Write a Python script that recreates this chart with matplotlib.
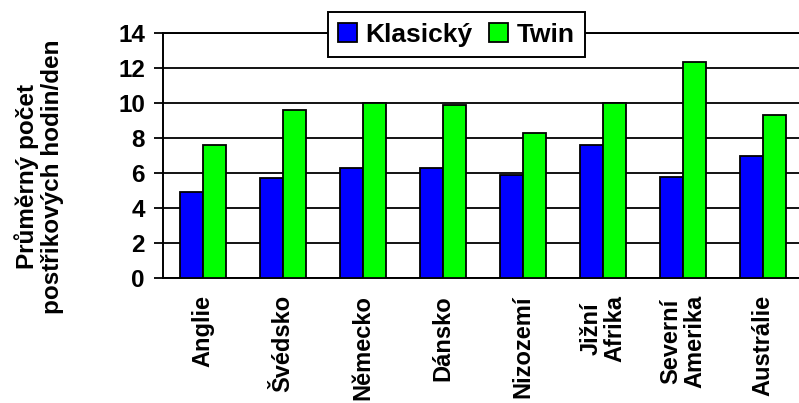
import matplotlib
matplotlib.use("Agg")
import matplotlib.pyplot as plt
import numpy as np

categories = ["Anglie", "Švédsko", "Německo", "Dánsko", "Nizozemí",
              "Jižní\nAfrika", "Severní\nAmerika", "Austrálie"]
klasicky = [4.9, 5.7, 6.3, 6.3, 5.9, 7.6, 5.8, 7.0]
twin = [7.6, 9.6, 10.0, 9.9, 8.3, 10.0, 12.3, 9.3]
series_names = ["Klasický", "Twin"]
yticks = [0, 2, 4, 6, 8, 10, 12, 14]

plt.rcParams['font.family'] = ['Liberation Sans', 'DejaVu Sans']
plt.rcParams['font.weight'] = 'bold'

fig = plt.figure(figsize=(7.99, 4.03), dpi=100)
ax = fig.add_axes([0.204, 0.309, 0.801, 0.610])

x = np.arange(len(categories))
w = 0.2875
ax.bar(x - w / 2, klasicky, w, color="#0000FF", edgecolor="black",
       linewidth=1.3, zorder=3, label=series_names[0])
ax.bar(x + w / 2, twin, w, color="#00FF00", edgecolor="black",
       linewidth=1.3, zorder=3, label=series_names[1])

ax.set_xlim(-0.5, len(categories) - 0.5)
ax.set_ylim(0, 14)
ax.set_yticks(yticks)
ax.set_yticklabels([str(v) for v in yticks], fontsize=17.5, fontweight='bold')
ax.set_xticks(x)
ax.set_xticklabels(categories, rotation=90, fontsize=17, fontweight='bold',
                   va='top', ha='center', linespacing=1.05)
ax.tick_params(axis='x', length=0, pad=12)
ax.tick_params(axis='y', length=6.5, width=1.3, pad=6.5, direction='out')

ax.yaxis.grid(True, color='black', linewidth=1.3, zorder=0)
ax.set_axisbelow(True)
for s in ['left', 'bottom', 'top']:
    ax.spines[s].set_color('black')
    ax.spines[s].set_linewidth(1.4)
ax.spines['right'].set_visible(False)

fig.text(0.049, 0.561, "Průměrný počet\npostřikových hodin/den", rotation=90,
         ha='center', va='center', fontsize=17.5, fontweight='bold',
         linespacing=1.12)

leg = fig.legend(loc='center', bbox_to_anchor=(0.571, 0.914), ncol=2,
                 frameon=True, fancybox=False, framealpha=1,
                 prop={'size': 19, 'weight': 'bold'},
                 handlelength=0.72, handleheight=0.72, handletextpad=0.3,
                 columnspacing=0.65, borderpad=0.4, borderaxespad=0)
leg.get_frame().set_edgecolor('black')
leg.get_frame().set_linewidth(1.4)
for h in leg.legend_handles:
    h.set_edgecolor('black')
    h.set_linewidth(1.3)

fig.savefig("out.png", dpi=100)
